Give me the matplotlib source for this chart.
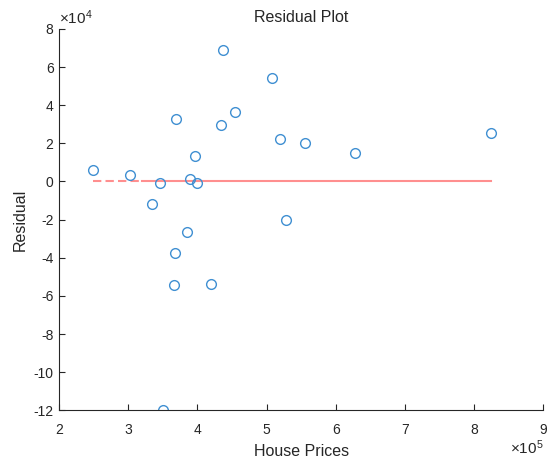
import numpy as np
import matplotlib
matplotlib.use('Agg')
import matplotlib.pyplot as plt
from matplotlib.ticker import FuncFormatter, MultipleLocator

plt.rcParams['font.family'] = ['Liberation Sans', 'DejaVu Sans']
plt.rcParams['mathtext.fontset'] = 'custom'
plt.rcParams['mathtext.rm'] = 'Liberation Sans'
plt.rcParams['mathtext.it'] = 'Liberation Sans'

# House prices (x) and residuals (y)
prices = np.array([2.496, 3.019, 3.457, 3.896, 3.993, 3.968, 3.346, 3.844,
                   3.674, 3.656, 4.195, 5.276, 3.693, 3.496, 4.369, 5.074,
                   4.547, 4.344, 5.198, 5.551, 6.275, 8.252]) * 1e5
residuals = np.array([0.62, 0.35, -0.105, 0.105, -0.09, 1.33, -1.19, -2.63,
                      -3.77, -5.42, -5.40, -2.04, 3.30, -12.0, 6.88, 5.42,
                      3.62, 2.98, 2.25, 2.02, 1.51, 2.54]) * 1e4
dash_end = 3.2e5  # zero line looks dashed up to about here

dark = '#262626'
blue = '#3f8fd2'
red = '#ff8f8f'

fig = plt.figure(figsize=(5.47, 4.58), dpi=100)
ax = fig.add_axes([0.108, 0.104, 0.885, 0.833])

# zero reference line
ax.plot([prices.min(), dash_end], [0, 0], color=red, lw=1.5,
        linestyle=(0, (4, 2)), zorder=1)
ax.plot([dash_end, prices.max()], [0, 0], color=red, lw=1.5, zorder=1)

ax.plot(prices, residuals, 'o', mfc='none', mec=blue, ms=7, mew=1.0, zorder=2)

ax.set_xlim(2e5, 9e5)
ax.set_ylim(-12e4, 8e4)
ax.xaxis.set_major_locator(MultipleLocator(1e5))
ax.yaxis.set_major_locator(MultipleLocator(2e4))
ax.xaxis.set_major_formatter(FuncFormatter(lambda v, p: f'{v / 1e5:g}'))
ax.yaxis.set_major_formatter(FuncFormatter(lambda v, p: f'{v / 1e4:g}'))

for s in ['top', 'right']:
    ax.spines[s].set_visible(False)
for s in ['left', 'bottom']:
    ax.spines[s].set_color(dark)
    ax.spines[s].set_linewidth(0.8)
ax.tick_params(direction='in', length=4, width=0.8, colors=dark,
               labelsize=10)
ax.tick_params(axis='x', pad=9)
ax.tick_params(axis='y', pad=4)

ax.set_title('Residual Plot', fontsize=11.5, color=dark, pad=5)
ax.set_xlabel('House Prices', fontsize=11.5, color=dark, labelpad=5)
ax.set_ylabel('Residual', fontsize=11.5, color=dark, labelpad=4)

ax.text(0.0, 1.005, r'$\times10^{4}$', transform=ax.transAxes,
        fontsize=11, color=dark, ha='left', va='bottom')
fig.text(0.994, 0.002, r'$\times10^{5}$',
         fontsize=11, color=dark, ha='right', va='bottom')

fig.savefig('out.png', dpi=100)
